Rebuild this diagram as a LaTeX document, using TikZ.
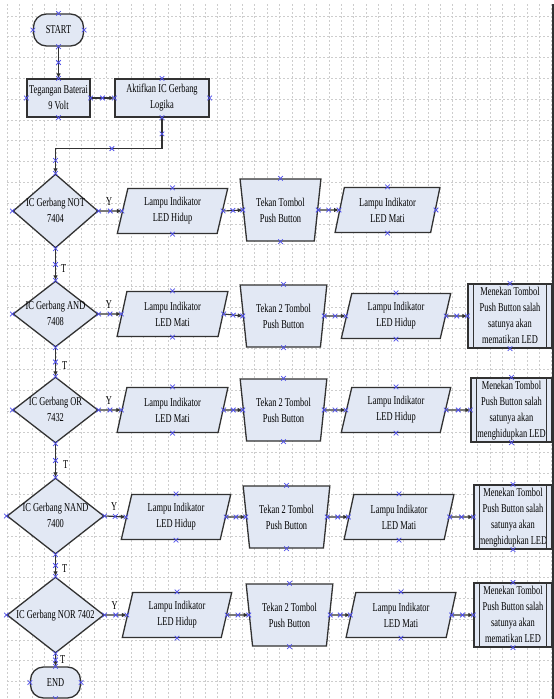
\documentclass[tikz,border=0pt]{standalone}
\usepackage{fontspec}
\setmainfont{Liberation Serif}[FakeStretch=0.7]
\usetikzlibrary{shapes.geometric,arrows.meta,decorations.markings}
\definecolor{boxfill}{RGB}{226,232,244}
\definecolor{edgec}{RGB}{50,50,50}
\definecolor{gridc}{RGB}{205,205,205}
\definecolor{mkc}{RGB}{80,80,235}
\newcommand\zw[1]{\makebox[0pt]{\begin{tabular}{@{}c@{}}#1\end{tabular}}}
\newcommand\xcr{\draw[-,solid,mkc,line width=0.8pt] (-2.3pt,-2.3pt) -- (2.3pt,2.3pt) (-2.3pt,2.3pt) -- (2.3pt,-2.3pt);}
\newcommand\cpmark[1]{\draw[-,solid,mkc,line width=0.8pt] ([shift={(-2.3pt,-2.3pt)}]#1) -- ([shift={(2.3pt,2.3pt)}]#1) ([shift={(-2.3pt,2.3pt)}]#1) -- ([shift={(2.3pt,-2.3pt)}]#1);}
\tikzset{
  shp/.style={draw=edgec, fill=boxfill, line width=1.3pt, inner sep=0pt, align=center},
  term/.style={shp, rectangle, rounded corners=13pt, minimum width=50pt, minimum height=32pt},
  proc/.style={shp, rectangle, minimum height=38pt},
  dec/.style={shp, diamond},
  io/.style={shp, trapezium, trapezium left angle=76, trapezium right angle=104, trapezium stretches=true, minimum height=45pt},
  man/.style={shp, trapezium, trapezium left angle=101, trapezium right angle=101, trapezium stretches=true, minimum height=62pt},
  pre/.style={shp, rectangle, minimum height=62pt},
  mkat/.style={postaction={decorate, decoration={markings, mark=at position #1 with {\xcr}}}},
  link/.style={draw=edgec, line width=1.1pt, -{Latex[length=5pt,width=4.5pt]}},
  arr/.style={link, mkat=0.5},
  lbl/.style={inner sep=0pt, text=black},
  gridl/.style={gridc, line width=0.6pt, dash pattern=on 2pt off 2pt},
}
\begin{document}
\begin{tikzpicture}[x=1pt, y=-1pt, font=\fontsize{12}{16}\selectfont]
\useasboundingbox (0,0) rectangle (554,699);
\fill[white] (0,0) rectangle (554,699);
% grid
\foreach \i in {0,...,44} \draw[gridl] ({7.3+12.372*\i},4) -- ({7.3+12.372*\i},699);
\foreach \j in {0,...,32} \draw[gridl] (7,{15.8+20.8*\j}) -- (552,{15.8+20.8*\j});

% top
\node[term] (start) at (58.5,30) {START};
\node[proc, minimum width=63pt] (teg) at (58.5,98) {Tegangan Baterai\\9 Volt};
\node[proc, minimum width=94pt] (akt) at (162,98) {Aktifkan IC Gerbang\\Logika};

% decisions
\node[dec, minimum width=85pt, minimum height=74pt] (d1) at (55.5,211) {\zw{IC Gerbang NOT\\7404}};
\node[dec, minimum width=85pt, minimum height=66pt] (d2) at (55.5,314) {\zw{IC Gerbang AND\\7408}};
\node[dec, minimum width=85pt, minimum height=66pt] (d3) at (55.5,410) {\zw{IC Gerbang OR\\7432}};
\node[dec, minimum width=97pt, minimum height=76pt] (d4) at (55.5,516) {\zw{IC Gerbang NAND\\7400}};
\node[dec, minimum width=97pt, minimum height=76pt] (d5) at (55.5,615) {\zw{IC Gerbang NOR 7402}};
\node[term, minimum height=31pt] (end) at (55.5,682.5) {END};

% row 1
\node[io, minimum width=111pt] (p1) at (172.5,211) {Lampu Indikator\\LED Hidup};
\node[man, minimum width=81pt] (t1) at (280.5,210) {Tekan Tombol\\Push Button};
\node[io, minimum width=105pt] (q1) at (387.5,210) {Lampu Indikator\\LED Mati};
% row 2
\node[io, minimum width=111pt] (p2) at (172.5,314) {Lampu Indikator\\LED Mati};
\node[man, minimum width=87pt] (t2) at (283.5,316) {Tekan 2 Tombol\\Push Button};
\node[io, minimum width=110pt] (q2) at (396,316) {Lampu Indikator\\LED Hidup};
\node[pre, minimum width=84pt] (b2) at (510,316) {\zw{Menekan Tombol\\Push Button salah\\satunya akan\\mematikan LED}};
% row 3
\node[io, minimum width=111pt] (p3) at (172.5,410) {Lampu Indikator\\LED Mati};
\node[man, minimum width=87pt] (t3) at (283.5,410) {Tekan 2 Tombol\\Push Button};
\node[io, minimum width=110pt] (q3) at (396,410) {Lampu Indikator\\LED Hidup};
\node[pre, minimum width=81pt] (b3) at (511.5,410) {\zw{Menekan Tombol\\Push Button salah\\satunya akan\\menghidupkan LED}};
% row 4
\node[io, minimum width=110pt] (p4) at (176,517) {Lampu Indikator\\LED Hidup};
\node[man, minimum width=87pt] (t4) at (286.5,517) {Tekan 2 Tombol\\Push Button};
\node[io, minimum width=110pt] (q4) at (399,517) {Lampu Indikator\\LED Mati};
\node[pre, minimum width=78pt] (b4) at (513,517) {\zw{Menekan Tombol\\Push Button salah\\satunya akan\\menghidupkan LED}};
% row 5
\node[io, minimum width=110pt] (p5) at (177,615) {Lampu Indikator\\LED Hidup};
\node[man, minimum width=87pt] (t5) at (289.5,615) {Tekan 2 Tombol\\Push Button};
\node[io, minimum width=110pt] (q5) at (401,615) {Lampu Indikator\\LED Mati};
\node[pre, minimum width=78pt] (b5) at (513,615) {\zw{Menekan Tombol\\Push Button salah\\satunya akan\\mematikan LED}};

% predefined-process inner bars
\foreach \b in {b2,b3,b4,b5}{
  \draw[draw=edgec, line width=1.1pt] ([xshift=6pt]\b.north west) -- ([xshift=6pt]\b.south west);
  \draw[draw=edgec, line width=1.1pt] ([xshift=-6pt]\b.north east) -- ([xshift=-6pt]\b.south east);
}

% connectors
\draw[arr] (start) -- (teg);
\draw[arr] (teg) -- (akt);
\draw[link, mkat=0.1, mkat=0.5, mkat=0.92] (akt.south) -- ++(0,31) -| (d1.north);
\draw[arr] (d1) -- node[lbl, right=5pt, pos=0.62] {T} (d2);
\draw[arr] (d2) -- node[lbl, right=6pt, pos=0.62] {T} (d3);
\draw[arr] (d3) -- node[lbl, right=7pt, pos=0.62] {T} (d4);
\draw[arr] (d4) -- node[lbl, right=6pt, pos=0.62] {T} (d5);
\draw[arr] (d5) -- node[lbl, right=4pt, pos=0.45] {T} (end);
\foreach \r in {1,...,5}{
  \draw[arr] (d\r.east) -- node[lbl, above=5pt, pos=0.45] {Y} (p\r.west);
  \draw[arr] (p\r.east) -- (t\r.west);
  \draw[arr] (t\r.east) -- (q\r.west);
}
\foreach \r in {2,...,5}{
  \draw[arr] (q\r.east) -- (b\r.west);
}

% page edge
\draw[edgec, line width=2pt] (552.5,4) -- (552.5,699);

% connection point marks
\foreach \n in {start,teg,akt,d1,d2,d3,d4,d5,end,p1,p2,p3,p4,p5,t1,t2,t3,t4,t5,q1,q2,q3,q4,q5}{
  \foreach \a in {north,south,east,west}{\cpmark{\n.\a}}
}
\foreach \n in {b2,b3,b4,b5}{
  \foreach \a in {north,south,west}{\cpmark{\n.\a}}
}
\end{tikzpicture}
\end{document}
